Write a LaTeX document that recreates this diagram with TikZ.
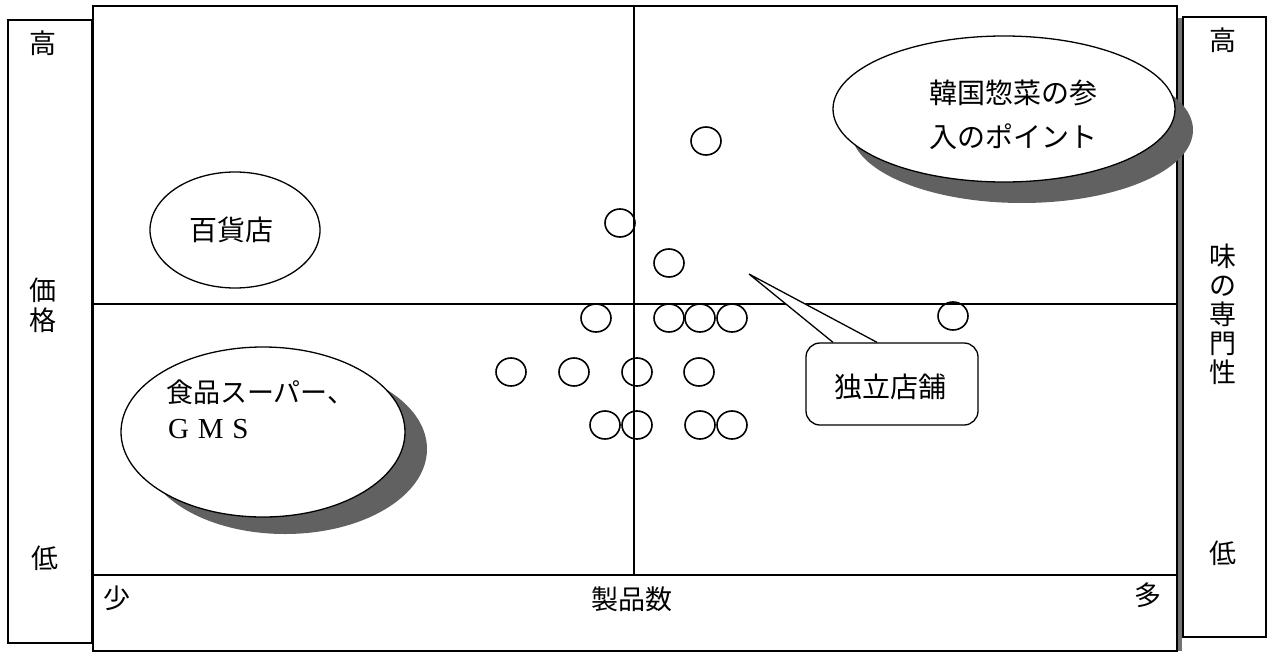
\documentclass[tikz,border=0pt]{standalone}
\usepackage{fontspec}
\setmainfont{Noto Sans CJK JP}
\newfontfamily\gmsfont[LetterSpace=30]{Liberation Serif}
\usetikzlibrary{shapes.geometric}
\tikzset{
  frame/.style={draw, line width=2pt},
  axisline/.style={line width=1.5pt},
  dot/.style={draw, ellipse, line width=1.6pt, minimum width=30pt, minimum height=28pt, inner sep=0pt},
  bubble/.style={draw, ellipse, fill=white, line width=1.3pt, inner sep=0pt},
  shade/.style={ellipse, fill=black!62, inner sep=0pt},
  lbl/.style={font=\fontsize{27}{30}\selectfont, inner sep=0pt},
}
\begin{document}
\begin{tikzpicture}[x=1pt,y=-1pt]
\useasboundingbox (0,0) rectangle (1269,653);
% frames
\draw[frame] (8,20) rectangle (92,643);
\draw[frame] (1183,17) rectangle (1266,637);
\fill[black!55] (1177,18) rectangle (1182,651);
\draw[frame] (93,6) rectangle (1177,651);
% axes
\coordinate (vtop) at (634,6);
\coordinate (vbot) at (634,575);
\coordinate (hl) at (93,304);
\coordinate (hr) at (1177,304);
\coordinate (bl) at (93,575);
\coordinate (br) at (1177,575);
\draw[axisline] (vtop) -- (vbot);
\draw[axisline] (hl) -- (hr);
\draw[axisline] (bl) -- (br);
% axis labels
\node[lbl] (lhigh) at (43,43) {高};
\node[lbl, align=center, font=\fontsize{27}{30}\selectfont] (price) at (43,305) {価\\格};
\node[lbl] (llow) at (45,558) {低};
\node[lbl] (few) at (117,598) {少};
\node[lbl] (count) at (632,599) {製品数};
\node[lbl] (many) at (1148,595) {多};
\node[lbl] (rhigh) at (1223,40) {高};
\node[lbl, align=center, font=\fontsize{27}{29}\selectfont] (taste) at (1223,314) {味\\の\\専\\門\\性};
\node[lbl] (rlow) at (1223,553) {低};
% bubbles
\node[shade, minimum width=342pt, minimum height=146pt] (bigsh) at (1022,130) {};
\node[bubble, minimum width=342pt, minimum height=146pt] (big) at (1004,109) {};
\node[lbl, align=left, font=\fontsize{28}{44}\selectfont] (bigtxt) at (1013,115) {韓国惣菜の参\\入のポイント};
\node[bubble, minimum width=170pt, minimum height=116pt] (dept) at (235,230) {};
\node[lbl, font=\fontsize{28}{30}\selectfont] (depttxt) at (231,230) {百貨店};
\node[shade, minimum width=284pt, minimum height=170pt] (supsh) at (285,449) {};
\node[bubble, minimum width=284pt, minimum height=170pt] (sup) at (263,432) {};
\node[lbl, anchor=west] (suptxt) at (166,392) {食品スーパー、};
\node[lbl, anchor=west] (gms) at (168,429) {\gmsfont\fontsize{29}{30}\selectfont GMS};
% dots
\node[dot] (d1) at (706,141) {};
\node[dot] (d2) at (620,223) {};
\node[dot] (d3) at (669,263) {};
\node[dot] (d4) at (596,318) {};
\node[dot] (d5) at (669,318) {};
\node[dot] (d6) at (700,318) {};
\node[dot] (d7) at (732,318) {};
\node[dot] (d8) at (953,316) {};
\node[dot] (d9) at (511,372) {};
\node[dot] (d10) at (574,372) {};
\node[dot] (d11) at (637,372) {};
\node[dot] (d12) at (699,372) {};
\node[dot] (d13) at (605,425) {};
\node[dot] (d14) at (637,425) {};
\node[dot] (d15) at (700,425) {};
\node[dot] (d16) at (732,425) {};
% callout
\node[draw, fill=white, rounded corners=14pt, line width=1.3pt, minimum width=172pt, minimum height=82pt, inner sep=0pt] (indep) at (892,384) {};
\node[lbl, font=\fontsize{28}{30}\selectfont] (indeptxt) at (890,387) {独立店舗};
\coordinate (tip) at (749,274);
\fill[white] ([xshift=-59pt,yshift=1pt]indep.north) -- (tip) -- ([xshift=-15pt,yshift=1pt]indep.north) -- cycle;
\draw[line width=1.3pt, line join=miter] ([xshift=-59pt]indep.north) -- (tip) -- ([xshift=-15pt]indep.north);
\end{tikzpicture}
\end{document}
